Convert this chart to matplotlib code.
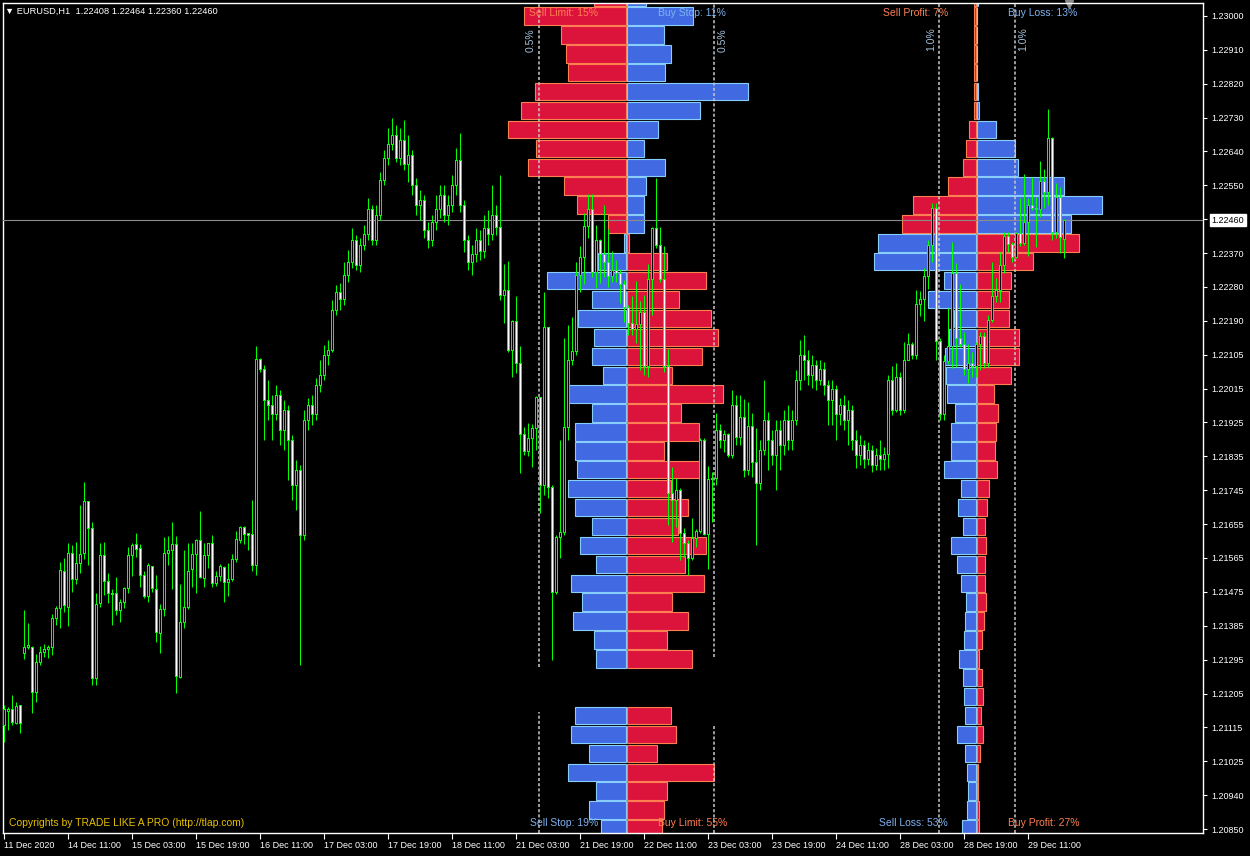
import matplotlib
matplotlib.use('Agg')
import matplotlib.pyplot as plt
import numpy as np

# ---- candles, EURUSD H1, prices in points (1e-5) ----
opens = [121125, 121162, 121165, 121129, 121176, 121314, 121330, 121330, 121211, 121290,
         121317, 121324, 121330, 121407, 121434, 121531, 121436, 121579, 121509, 121553,
         121579, 121716, 121645, 121248, 121447, 121574, 121504, 121473, 121473, 121429,
         121449, 121487, 121574, 121603, 121591, 121521, 121464, 121544, 121484, 121367,
         121431, 121579, 121587, 121603, 121250, 121396, 121436, 121535, 121576, 121612,
         121513, 121574, 121606, 121500, 121517, 121542, 121502, 121509, 121563, 121613,
         121647, 121632, 121629, 121548, 122091, 122064, 121984, 121971, 121945, 121997,
         121905, 121958, 121878, 121759, 121799, 121627, 121931, 121971, 121945, 122024,
         122050, 122103, 122116, 122222, 122270, 122249, 122315, 122349, 122407, 122341,
         122394, 122421, 122487, 122407, 122473, 122566, 122624, 122659, 122685, 122624,
         122672, 122606, 122632, 122553, 122500, 122513, 122434, 122407, 122455, 122487,
         122526, 122473, 122500, 122553, 122619, 122500, 122407, 122349, 122368, 122407,
         122376, 122439, 122421, 122473, 122440, 122262, 122273, 122116, 122193, 122082,
         121892, 121847, 121884, 121910, 121990, 121759, 122175, 121754, 121476, 121622,
         121635, 121913, 122090, 122114, 122315, 122362, 122444, 122489, 122323, 122407,
         122368, 122347, 122310, 122328, 122320, 122291, 122230, 122188, 122172, 122183,
         122217, 122072, 122302, 122439, 122394, 122302, 122072, 121738, 121720, 121746,
         121632, 121606, 121566, 121617, 121638, 121878, 121630, 121775, 121778, 121905,
         121878, 121892, 121839, 121971, 121886, 121937, 121799, 121915, 121820, 121765,
         121852, 121931, 121878, 121839, 121905, 121865, 121931, 121878, 121931, 122037,
         122103, 122090, 122050, 122077, 122037, 122064, 122024, 121984, 122011, 121945,
         121971, 121931, 121958, 121878, 121839, 121865, 121826, 121852, 121812, 121839,
         121826, 121840, 122037, 121958, 122045, 121958, 122090, 122130, 122103, 122238,
         122251, 122312, 122392, 122492, 122138, 121945, 122085, 122127, 122320, 122148,
         122130, 122064, 122082, 122072, 122130, 122153, 122082, 122196, 122257, 122275,
         122341, 122418, 122397, 122362, 122426, 122399, 122455, 122500, 122492, 122489,
         122563, 122534, 122677, 122428, 122521, 122408]
highs = [121178, 121173, 121204, 121185, 121176, 121429, 121396, 121334, 121314, 121334,
         121339, 121337, 121419, 121441, 121555, 121566, 121606, 121601, 121609, 121707,
         121768, 121716, 121662, 121473, 121606, 121609, 121526, 121486, 121516, 121457,
         121491, 121595, 121606, 121632, 121604, 121531, 121553, 121546, 121522, 121445,
         121623, 121625, 121663, 121625, 121498, 121588, 121606, 121606, 121616, 121691,
         121606, 121606, 121628, 121531, 121550, 121546, 121553, 121576, 121638, 121651,
         121651, 121633, 121720, 122126, 122095, 122077, 122037, 121997, 122024, 122011,
         121984, 121971, 121892, 121826, 121812, 121958, 121990, 121997, 122042, 122090,
         122130, 122143, 122249, 122288, 122294, 122349, 122381, 122439, 122421, 122413,
         122447, 122518, 122500, 122500, 122587, 122645, 122704, 122730, 122711, 122704,
         122725, 122685, 122645, 122571, 122540, 122526, 122455, 122473, 122526, 122553,
         122553, 122526, 122579, 122651, 122690, 122513, 122421, 122394, 122439, 122434,
         122473, 122487, 122553, 122500, 122579, 122344, 122352, 122196, 122259, 122127,
         121913, 121923, 121921, 121995, 121992, 122270, 122177, 121759, 121627, 121878,
         122148, 122183, 122204, 122349, 122392, 122479, 122529, 122529, 122447, 122410,
         122500, 122436, 122378, 122354, 122331, 122302, 122235, 122259, 122299, 122246,
         122262, 122344, 122442, 122571, 122442, 122392, 122119, 121807, 121778, 121751,
         121646, 121614, 121672, 121643, 121884, 121884, 121810, 121794, 121950, 121921,
         121905, 121897, 122011, 121997, 121997, 121987, 121979, 121950, 121910, 121878,
         122037, 121953, 121905, 121931, 121931, 121958, 121971, 121958, 122064, 122143,
         122156, 122116, 122103, 122090, 122090, 122085, 122037, 122037, 122024, 121990,
         121997, 121984, 121971, 121905, 121892, 121878, 121873, 121865, 121857, 121878,
         121860, 122050, 122074, 122082, 122058, 122138, 122161, 122138, 122275, 122273,
         122333, 122407, 122505, 122505, 122148, 122103, 122228, 122402, 122347, 122291,
         122164, 122132, 122111, 122138, 122164, 122164, 122209, 122349, 122307, 122376,
         122428, 122428, 122402, 122428, 122518, 122582, 122518, 122574, 122521, 122616,
         122595, 122754, 122680, 122558, 122548, 122464]
lows = [121081, 121112, 121125, 121127, 121105, 121299, 121325, 121156, 121187, 121285,
        121306, 121303, 121310, 121389, 121382, 121425, 121388, 121478, 121498, 121526,
        121563, 121548, 121231, 121231, 121438, 121469, 121447, 121389, 121416, 121398,
        121434, 121473, 121519, 121568, 121491, 121460, 121451, 121478, 121345, 121316,
        121414, 121548, 121485, 121210, 121250, 121381, 121431, 121491, 121475, 121513,
        121491, 121539, 121491, 121493, 121507, 121451, 121467, 121507, 121557, 121606,
        121603, 121588, 121533, 121522, 122058, 121878, 121931, 121878, 121931, 121865,
        121852, 121773, 121720, 121693, 121283, 121614, 121905, 121918, 121931, 122005,
        122037, 122077, 122111, 122209, 122222, 122235, 122296, 122333, 122328, 122323,
        122381, 122407, 122394, 122394, 122460, 122553, 122606, 122645, 122614, 122606,
        122592, 122561, 122526, 122473, 122460, 122413, 122386, 122392, 122434, 122466,
        122455, 122447, 122481, 122526, 122481, 122376, 122328, 122315, 122349, 122354,
        122360, 122394, 122407, 122420, 122249, 122188, 122111, 122045, 122056, 121791,
        121839, 121836, 121807, 121852, 121685, 121733, 121725, 121297, 121471, 121566,
        121627, 121878, 122077, 122103, 122270, 122291, 122413, 122310, 122280, 122294,
        122310, 122283, 122296, 122296, 122241, 122190, 122156, 122156, 122135, 122064,
        122050, 122045, 122209, 122386, 122296, 122058, 121654, 121609, 121648, 121561,
        121569, 121521, 121561, 121595, 121632, 121627, 121537, 121662, 121759, 121857,
        121847, 121834, 121831, 121865, 121865, 121781, 121786, 121781, 121601, 121746,
        121839, 121799, 121812, 121746, 121799, 121839, 121852, 121852, 121918, 122011,
        122037, 122024, 122016, 122011, 122024, 121997, 121918, 121918, 121878, 121918,
        121905, 121865, 121852, 121804, 121812, 121804, 121812, 121794, 121799, 121799,
        121800, 121804, 121945, 121953, 121945, 121950, 122090, 122093, 122093, 122206,
        122193, 122278, 122349, 122090, 121931, 121931, 122079, 122069, 122072, 122124,
        122050, 122029, 122045, 122045, 122064, 122069, 122072, 122190, 122243, 122243,
        122320, 122376, 122349, 122360, 122392, 122394, 122365, 122487, 122389, 122468,
        122492, 122500, 122407, 122413, 122373, 122360]
closes = [121165, 121167, 121131, 121173, 121129, 121330, 121336, 121211, 121291, 121317,
          121326, 121331, 121407, 121434, 121534, 121441, 121579, 121509, 121553, 121576,
          121716, 121645, 121248, 121445, 121574, 121504, 121473, 121471, 121429, 121449,
          121487, 121574, 121600, 121590, 121521, 121464, 121548, 121486, 121370, 121431,
          121579, 121587, 121603, 121253, 121396, 121436, 121531, 121576, 121612, 121516,
          121574, 121606, 121500, 121517, 121544, 121502, 121511, 121563, 121616, 121648,
          121628, 121626, 121548, 122091, 122064, 121984, 121971, 121945, 121997, 121905,
          121958, 121878, 121759, 121799, 121627, 121931, 121971, 121945, 122024, 122050,
          122103, 122116, 122222, 122270, 122249, 122315, 122349, 122407, 122341, 122394,
          122421, 122487, 122407, 122473, 122566, 122624, 122659, 122685, 122624, 122672,
          122606, 122632, 122553, 122500, 122513, 122434, 122407, 122455, 122487, 122526,
          122473, 122500, 122553, 122619, 122500, 122407, 122349, 122368, 122407, 122376,
          122439, 122421, 122473, 122440, 122262, 122273, 122116, 122193, 122082, 121892,
          121847, 121884, 121910, 121990, 121759, 122175, 121754, 121476, 121622, 121635,
          121913, 122090, 122114, 122315, 122362, 122444, 122489, 122323, 122407, 122368,
          122347, 122310, 122328, 122320, 122291, 122230, 122188, 122172, 122183, 122217,
          122072, 122302, 122439, 122394, 122302, 122072, 121738, 121720, 121746, 121632,
          121606, 121566, 121617, 121638, 121878, 121630, 121775, 121778, 121905, 121878,
          121892, 121839, 121971, 121886, 121937, 121799, 121915, 121820, 121765, 121852,
          121931, 121878, 121839, 121905, 121865, 121931, 121878, 121931, 122037, 122103,
          122090, 122050, 122077, 122037, 122064, 122024, 121984, 122011, 121945, 121971,
          121931, 121958, 121878, 121839, 121865, 121826, 121852, 121812, 121839, 121826,
          121840, 122037, 121958, 122045, 121958, 122090, 122130, 122103, 122238, 122251,
          122312, 122392, 122492, 122138, 121945, 122085, 122127, 122320, 122148, 122130,
          122064, 122082, 122072, 122130, 122153, 122082, 122196, 122257, 122275, 122341,
          122418, 122397, 122362, 122426, 122399, 122455, 122500, 122492, 122489, 122563,
          122534, 122677, 122428, 122521, 122413, 122460]

time_labels = ["11 Dec 2020", "14 Dec 11:00", "15 Dec 03:00", "15 Dec 19:00", "16 Dec 11:00",
               "17 Dec 03:00", "17 Dec 19:00", "18 Dec 11:00", "21 Dec 03:00", "21 Dec 19:00",
               "22 Dec 11:00", "23 Dec 03:00", "23 Dec 19:00", "24 Dec 11:00", "28 Dec 03:00",
               "28 Dec 19:00", "29 Dec 11:00"]
price_labels = ["1.23000", "1.22910", "1.22820", "1.22730", "1.22640", "1.22550", "1.22460",
                "1.22370", "1.22280", "1.22190", "1.22105", "1.22015", "1.21925", "1.21835",
                "1.21745", "1.21655", "1.21565", "1.21475", "1.21385", "1.21295", "1.21205",
                "1.21115", "1.21025", "1.20940", "1.20850"]
last_price = 1.22460

# ---- order book (open orders), % of total ----
ob_upper_lv = [1.2305, 1.2300, 1.2295, 1.2290, 1.2285, 1.2280, 1.2275, 1.2270, 1.2265,
               1.2260, 1.2255, 1.2250, 1.2245]
sell_limit = [0.18, 0.58, 0.37, 0.34, 0.33, 0.52, 0.60, 0.67, 0.51, 0.56, 0.35, 0.28, 0.10]
buy_stop = [0.11, 0.38, 0.21, 0.25, 0.22, 0.69, 0.42, 0.18, 0.10, 0.22, 0.11, 0.10, 0.10]
ob_lower_lv = [1.2240, 1.2235, 1.2230, 1.2225, 1.2220, 1.2215, 1.2210, 1.2205, 1.2200,
               1.2195, 1.2190, 1.2185, 1.2180, 1.2175, 1.2170, 1.2165, 1.2160, 1.2155,
               1.2150, 1.2145, 1.2140, 1.2135, 1.2130, 1.2115, 1.2110, 1.2105, 1.2100,
               1.2095, 1.2090, 1.2085]
sell_stop = [0.01, 0.16, 0.45, 0.19, 0.27, 0.18, 0.19, 0.13, 0.33, 0.19, 0.29, 0.29, 0.28,
             0.33, 0.29, 0.19, 0.26, 0.17, 0.31, 0.25, 0.30, 0.18, 0.17, 0.29, 0.31, 0.21,
             0.33, 0.17, 0.21, 0.14]
buy_limit = [0.01, 0.23, 0.45, 0.30, 0.48, 0.52, 0.43, 0.26, 0.55, 0.31, 0.41, 0.21, 0.41,
             0.25, 0.35, 0.29, 0.45, 0.33, 0.44, 0.26, 0.35, 0.23, 0.37, 0.25, 0.28, 0.17,
             0.50, 0.23, 0.21, 0.20]

# ---- open positions, % of total ----
pos_upper_lv = [1.2305, 1.2300, 1.2295, 1.2290, 1.2285, 1.2280, 1.2275, 1.2270, 1.2265,
                1.2260, 1.2255, 1.2250, 1.2245]
sell_profit = [0.05, 0.05, 0.05, 0.05, 0.05, 0.05, 0.05, 0.18, 0.26, 0.34, 0.74, 1.66, 1.95]
buy_loss = [0.03, 0.0, 0.0, 0.0, 0.0, 0.02, 0.05, 0.50, 1.00, 1.08, 2.29, 3.29, 2.47]
pos_lower_lv = [1.2240, 1.2235, 1.2230, 1.2225, 1.2220, 1.2215, 1.2210, 1.2205, 1.2200,
                1.2195, 1.2190, 1.2185, 1.2180, 1.2175, 1.2170, 1.2165, 1.2160, 1.2155,
                1.2150, 1.2145, 1.2140, 1.2135, 1.2130, 1.2125, 1.2120, 1.2115, 1.2110,
                1.2105, 1.2100, 1.2095, 1.2090, 1.2085]
sell_loss = [2.58, 2.68, 0.84, 1.26, 0.58, 0.71, 0.82, 0.79, 0.76, 0.55, 0.66, 0.66, 0.84,
             0.39, 0.47, 0.34, 0.66, 0.50, 0.39, 0.26, 0.29, 0.32, 0.45, 0.34, 0.32, 0.29,
             0.50, 0.29, 0.24, 0.21, 0.24, 0.37]
buy_profit = [2.68, 1.47, 0.89, 0.84, 0.84, 1.11, 1.11, 0.89, 0.45, 0.55, 0.50, 0.47, 0.53,
              0.32, 0.26, 0.21, 0.24, 0.21, 0.21, 0.24, 0.18, 0.13, 0.05, 0.13, 0.16, 0.11,
              0.16, 0.08, 0.03, 0.03, 0.05, 0.05]

ob_titles = ["Sell Limit: 15%", "Buy Stop: 11%", "Sell Stop: 19%", "Buy Limit: 55%"]
pos_titles = ["Sell Profit: 7%", "Buy Loss: 13%", "Sell Loss: 53%", "Buy Profit: 27%"]

RED, RED_EDGE = '#dc143c', '#ff7f50'
BLUE, BLUE_EDGE = '#4169e1', '#87cefa'
TXT_RED, TXT_BLUE = '#ff7f50', '#7fb3f2'
LIME = '#00ff00'
plt.rcParams['font.family'] = ['Liberation Sans', 'DejaVu Sans']
plt.rcParams['font.size'] = 6.5

W, H = 1250, 856
PX = 37814.0  # pixels per 1.0 of price
fig = plt.figure(figsize=(W / 100, H / 100), dpi=100, facecolor='black')
rect = [3 / W, (H - 833) / H, 1200 / W, 830 / H]

bg = fig.add_axes(rect, facecolor='black', zorder=0)
bg.axis('off')

ax = fig.add_axes(rect, zorder=3)
ax.patch.set_alpha(0)

o = np.array(opens) / 1e5
hi = np.array(highs) / 1e5
lo = np.array(lows) / 1e5
c = np.array(closes) / 1e5
idx = np.arange(len(o))

# one bar = 4 px, first bar centre 4.3 px from the figure's left edge
ax.set_xlim((3 - 4.3) / 4.0, (1203 - 4.3) / 4.0)
ax.set_ylim(1.2085 - 4 / PX, 1.23 + 13 / PX)

# wicks, then a lime body with a 1 px white (bear) / black (bull) core
ax.vlines(idx, lo, hi, color=LIME, lw=0.72, zorder=5)
top_b = np.maximum(o, c) + 0.5 / PX
bot_b = np.minimum(o, c) - 0.5 / PX
ax.bar(idx, top_b - bot_b, bottom=bot_b, width=0.75, color=LIME, linewidth=0, zorder=6)
inner_h = (top_b - bot_b) - 2 / PX
big = inner_h > 0.5 / PX
core = np.where(c < o, 'white', 'black')
ax.bar(idx[big], inner_h[big], bottom=bot_b[big] + 1 / PX, width=0.28,
       color=core[big], linewidth=0, zorder=7)

ax.axhline(last_price, color='#8c8c8c', lw=0.8, zorder=4)

for s in ax.spines.values():
    s.set_color('white')
    s.set_linewidth(1)
yt = np.linspace(1.23, 1.2085, len(price_labels))
ax.set_yticks(yt)
ax.set_yticklabels(price_labels)
ax.yaxis.tick_right()
ax.tick_params(axis='y', colors='white', direction='out', length=3, pad=3, labelsize=6.5)
for lab, t in zip(ax.get_yticklabels(), price_labels):
    if t == "1.22460":
        lab.set_color('black')
        lab.set_bbox(dict(facecolor='white', edgecolor='white', pad=1.2))
ax.set_xticks(np.arange(len(time_labels)) * 16)
ax.set_xticklabels(time_labels, ha='left')
ax.tick_params(axis='x', colors='white', direction='out', length=4, pad=2, labelsize=6.5)

# histogram panels (x in % of total, centred on the panel's middle)
def panel(center_px, px_per_pct, up_lv, up_l, up_r, lo_lv, lo_l, lo_r):
    pax = fig.add_axes(rect, sharey=ax, facecolor='none', zorder=1)
    pax.set_xlim((3 - center_px) / px_per_pct, (1203 - center_px) / px_per_pct)
    pax.axis('off')
    g = 0.7 / px_per_pct
    kw = dict(height=0.00046, linewidth=0.8, zorder=2)
    pax.barh(up_lv, -np.array(up_l), left=-g, color=RED, edgecolor=RED_EDGE, **kw)
    pax.barh(up_lv, up_r, left=g, color=BLUE, edgecolor=BLUE_EDGE, **kw)
    pax.barh(lo_lv, -np.array(lo_l), left=-g, color=BLUE, edgecolor=BLUE_EDGE, **kw)
    pax.barh(lo_lv, lo_r, left=g, color=RED, edgecolor=RED_EDGE, **kw)
    return pax

p1 = panel(626.3, 175, ob_upper_lv, sell_limit, buy_stop, ob_lower_lv, sell_stop, buy_limit)
p2 = panel(976.5, 38, pos_upper_lv, sell_profit, buy_loss, pos_lower_lv, sell_loss, buy_profit)

dash = dict(color='#c8c8c8', lw=1.1, linestyle=(0, (2, 1.4)), zorder=3)
bot, top = ax.get_ylim()
p1.vlines(-0.5, 1.21278, top, **dash)
p1.vlines(-0.5, bot, 1.21159, **dash)
p1.vlines(0.5, 1.21305, top, **dash)
p1.vlines(0.5, bot, 1.21128, **dash)
p2.vlines([-1.0, 1.0], bot, top, **dash)

lab_kw = dict(rotation=90, color='#a9c3dc', fontsize=7.5, va='center', textcoords='offset points')
p1.annotate("0.5%", xy=(-0.5, 1.22937), xytext=(-2.5, 0), ha='right', **lab_kw)
p1.annotate("0.5%", xy=(0.5, 1.22937), xytext=(3, 0), ha='left', **lab_kw)
p2.annotate("1.0%", xy=(-1.0, 1.22940), xytext=(-2, 0), ha='right', **lab_kw)
p2.annotate("1.0%", xy=(1.0, 1.22940), xytext=(3, 0), ha='left', **lab_kw)

def ptxt(x, y, s, col, ha, size=7.5):
    fig.text(x / W, 1 - y / H, s, color=col, ha=ha, va='center', fontsize=size, zorder=10)

ptxt(598, 13, ob_titles[0], TXT_RED, 'right')
ptxt(658, 13, ob_titles[1], TXT_BLUE, 'left')
ptxt(598, 823, ob_titles[2], TXT_BLUE, 'right')
ptxt(658, 823, ob_titles[3], TXT_RED, 'left')
ptxt(948, 13, pos_titles[0], TXT_RED, 'right')
ptxt(1008, 13, pos_titles[1], TXT_BLUE, 'left')
ptxt(948, 823, pos_titles[2], TXT_BLUE, 'right')
ptxt(1008, 823, pos_titles[3], TXT_RED, 'left')

ptxt(5, 11, "\u25BC EURUSD,H1  1.22408 1.22464 1.22360 1.22460", 'white', 'left', 6.7)
ptxt(9, 823, "Copyrights by TRADE LIKE A PRO (http://tlap.com)", '#e8c000', 'left')
fig.lines.append(plt.Line2D([1069 / W], [1 - 4 / H], marker='v', markersize=6,
                            color='#8a8a8a', transform=fig.transFigure))

fig.savefig('out.png', dpi=100, facecolor='black')
